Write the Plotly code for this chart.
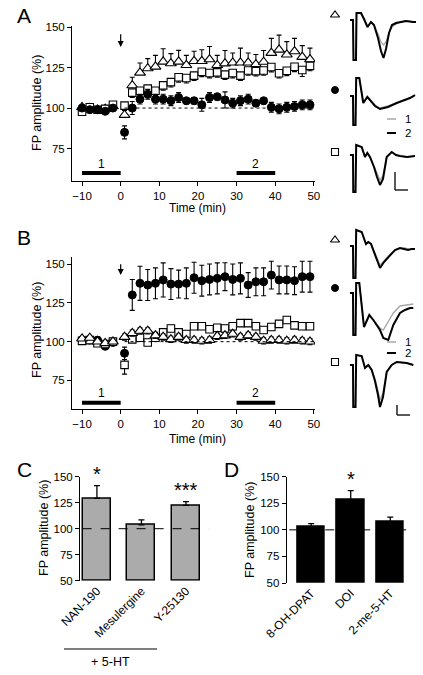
import plotly.graph_objects as go

# ---------------- data ----------------
t_all = [-10, -8, -6, -4, -2, 1, 3, 5, 7, 9, 11, 13, 15, 17, 19, 21, 23, 25, 27, 29,
         31, 33, 35, 37, 39, 41, 43, 45, 47, 49]

# Panel A
A_circle = [100, 99, 99, 98, 100, 85, 100, 105.5, 108.5, 105.5, 105.5, 104.5, 106.5, 104.5, 104.5,
            102, 106.5, 107, 105, 103, 104.5, 105.5, 103, 104.5, 100.5, 99.5, 100.5, 101, 102, 102]
A_circle_err = [1, 1, 1, 1, 1, 4, 4, 3, 3, 3, 3, 3, 3, 2, 2, 4, 3, 2, 5, 3, 3, 3, 2, 2, 3, 3, 3, 3, 3, 3]
A_square = [97.7, 100.5, 99, 99.5, 102, 101.5, 109.5, 110.7, 112, 110.7, 114, 116, 119, 118.5, 120,
            122.4, 121.6, 122, 120.6, 121.6, 120, 123.2, 122.8, 123.2, 125.3, 121.5, 123, 125.5, 123.5, 126]
A_square_err = [1, 1, 1, 1, 1, 3, 3, 3, 3, 3, 3, 3, 3, 3, 3, 3, 3, 3, 3, 3, 3, 3, 3, 3, 3, 3, 3, 3, 4, 3]
A_triangle = [100.5, 100, 99, 99.5, 101, 95.7, 114, 121.8, 124.5, 125.5, 128.6, 127.6, 128.6, 126.5, 129,
              129, 130, 126.5, 127.5, 128, 128, 128, 127, 128.5, 134, 136, 133, 135, 131.5, 130]
A_triangle_err = [1, 1, 1, 1, 1, 4, 5, 6, 6, 7, 8, 6, 7, 6, 6, 7, 8, 6, 8, 6, 9, 6, 6, 7, 9, 9, 8, 8, 7, 7]

# Panel B
B_circle = [101, 101, 101, 97, 99.5, 92.5, 130.2, 137.7, 136.6, 137.7, 139.9, 137.2, 137.2, 137.7, 141.3,
            139.4, 140.2, 140.9, 142, 140.2, 140.9, 136.6, 138.7, 138.7, 143, 139.9, 139.9, 139.4, 142, 142]
B_circle_err = [1, 1, 1, 1, 1, 4, 10, 11, 10, 10, 11, 10, 9, 10, 10, 10, 10, 10, 9, 10, 10, 8, 9, 9, 9, 9, 9, 9, 10, 10]
B_square = [100.5, 101, 99, 98.5, 100, 85, 101.5, 102.5, 99.5, 102.5, 106, 108.5, 106, 105, 110,
            110, 108, 109, 108.5, 110, 112, 112, 110, 107.5, 109.5, 111.5, 114, 110.5, 110, 110]
B_square_err = [1, 1, 1, 1, 1, 6, 2, 2, 2, 2, 2, 2, 2, 2, 2, 2, 2, 2, 2, 2, 2, 2, 2, 2, 2, 2, 2, 2, 2, 2]
B_triangle = [102, 102.5, 100, 99, 100, 103, 105.5, 107, 107, 104, 103, 101.5, 103, 101, 101,
              100.5, 101, 103.5, 104, 105, 103, 104, 103, 100.5, 101, 101, 100.5, 101, 100.5, 100]
B_triangle_err = [1, 1, 1, 1, 1, 2, 2, 2, 2, 2, 2, 2, 2, 2, 2, 2, 2, 2, 2, 2, 2, 2, 2, 2, 2, 2, 2, 2, 2, 2]

# sampling windows "1" and "2"
win1 = [-10, 0]
win2 = [30, 40]

# Panel C
C_cats = ["NAN-190", "Mesulergine", "Y-25130"]
C_vals = [129.2, 103.6, 122.5]
C_err = [12.3, 4.8, 3.5]
C_stars = ["*", "", "***"]

# Panel D
D_cats = ["8-OH-DPAT", "DOI", "2-me-5-HT"]
D_vals = [103.1, 128.1, 107.8]
D_err = [2.8, 8.8, 4.1]
D_stars = ["", "*", ""]

# Representative field potentials (time samples, amplitude; "1" grey = before, "2" black = after)
wA_tri_t = [0, 3, 3.5, 6, 6.5, 11, 14, 17.5, 21, 24, 28, 31, 33.5, 36, 39, 42, 46, 50, 56, 63, 66]
wA_tri_2 = [1, 1, -39, -39, 8, 8, 2, -6, -1, -4, -17, -30, -37, -28, -12, -4, -2, -1, 0, -1, -1]
wA_tri_1 = [1, 1, -39, -39, 8, 8, 2, -6, -1, -4, -13, -21, -24, -21, -12, -6, -3, -1, 0, -1, -1]

wA_cir_t = [0, 3, 3.3, 5.5, 6.2, 9.3, 13.3, 17.3, 20, 25, 30, 38, 46.7, 55, 60, 65]
wA_cir_2 = [0, 0, -29, -29, 18, 18, -7, -1, -4, -10, -13, -11, -7, -4, -2, 1]
wA_cir_1 = [0, 0, -29, -29, 18, 18, -7, -1, -4, -9, -12, -10, -7, -4, -2, 0]

wA_sq_t = [0, 3, 3.3, 5.5, 6.2, 11.7, 15, 17.3, 20, 24, 27, 30, 33, 36.7, 41.7, 46, 50, 57, 65]
wA_sq_2 = [0, 0, -37, -37, 10, 8, -2, 2, -2, -12, -22, -30, -24, -2, 3, 0, -1, -2, -1]
wA_sq_1 = [0, 0, -37, -37, 10, 8, -2, 2, -2, -11, -19, -25, -21, -2, 3, 0, -1, -2, -1]

wB_tri_t = [0, 3, 3.3, 5.5, 6.2, 11.7, 16, 18.3, 21, 25, 30, 34, 38.3, 45, 50, 55, 58, 61.7, 65]
wB_tri_2 = [1, 1, -31, -31, 17, 15, 3, 5, 3, -8, -21, -15, -10, -3, -1, -2, -3, -2, -2]
wB_tri_1 = [1, 1, -31, -31, 17, 15, 3, 5, 3, -7, -18, -14, -9, -3, -1, -1, -2, -2, -2]

wB_cir_t = [0, 3, 3.3, 5.5, 6.2, 9.3, 14, 19.3, 23.3, 30, 33.3, 38.3, 43.3, 50, 55, 60, 63.3]
wB_cir_2 = [0, 0, -42, -42, 10, 10, -34, -22, -27, -37, -45, -47, -32, -20, -17, -15, -15]
wB_cir_1 = [0, 0, -42, -42, 10, 10, -34, -22, -27, -35, -37, -29, -20, -13, -12, -11, -11]

wB_sq_t = [0, 3, 3.3, 5.5, 6.2, 11.7, 15, 18.3, 21.7, 25, 28, 30, 33, 36.7, 41.7, 46.7, 56.7, 63.3]
wB_sq_2 = [0, 0, -42, -42, 10, 9, -3, 0, -5, -16, -30, -42, -32, -7, 0, 3, 2, 0]
wB_sq_1 = [0, 0, -42, -42, 10, 9, -3, 0, -5, -14, -26, -35, -28, -7, 0, 3, 2, 0]

# ---------------- layout helpers ----------------
W, H = 423, 675
FONT = "Arial, Liberation Sans, sans-serif"


def fx(p):
    return p / W


def fy(p):
    return 1 - p / H


fig = go.Figure()

MK = {
    "circle": dict(symbol="circle", size=8, color="black", line=dict(color="black", width=1)),
    "square": dict(symbol="square", size=7.5, color="white", line=dict(color="black", width=1.1)),
    "triangle": dict(symbol="triangle-up", size=9.5, color="white", line=dict(color="black", width=1.1)),
}


def series(xa, ya, y, err, kind, up=True, down=True):
    zeros = [0] * len(err)
    fig.add_trace(go.Scatter(
        x=t_all, y=y, mode="markers", xaxis=xa, yaxis=ya,
        marker=MK[kind],
        error_y=dict(type="data", symmetric=False,
                     array=err if up else zeros,
                     arrayminus=err if down else zeros,
                     color="black", thickness=1.1, width=2.5),
        showlegend=False, hoverinfo="skip"))


# Panel A
series("x", "y", A_triangle, A_triangle_err, "triangle", up=True, down=False)
series("x", "y", A_square, A_square_err, "square", up=False, down=True)
series("x", "y", A_circle, A_circle_err, "circle")
# Panel B
series("x2", "y2", B_circle, B_circle_err, "circle")
series("x2", "y2", B_square, B_square_err, "square")
series("x2", "y2", B_triangle, B_triangle_err, "triangle")

# windows 1 & 2
for xa, ya, ybar in [("x", "y", 60), ("x2", "y2", 60.6)]:
    for w in (win1, win2):
        fig.add_trace(go.Scatter(x=w, y=[ybar, ybar], mode="lines", xaxis=xa, yaxis=ya,
                                 line=dict(color="black", width=4), showlegend=False, hoverinfo="skip"))

# Panel C bars
fig.add_trace(go.Bar(x=C_cats, y=[v - 50 for v in C_vals], base=50, xaxis="x3", yaxis="y3",
                     marker=dict(color="#ababab", line=dict(color="black", width=1.5)), width=0.63,
                     error_y=dict(type="data", symmetric=False, array=C_err, arrayminus=[0, 0, 0],
                                  color="black", thickness=1.3, width=3),
                     showlegend=False, hoverinfo="skip"))
# Panel D bars
fig.add_trace(go.Bar(x=D_cats, y=[v - 50 for v in D_vals], base=50, xaxis="x4", yaxis="y4",
                     marker=dict(color="black", line=dict(color="black", width=1.5)), width=0.70,
                     error_y=dict(type="data", symmetric=False, array=D_err, arrayminus=[0, 0, 0],
                                  color="black", thickness=1.3, width=3),
                     showlegend=False, hoverinfo="skip"))

# waveform traces
rows_A = [(wA_tri_t, wA_tri_1, wA_tri_2, 21), (wA_cir_t, wA_cir_1, wA_cir_2, 96), (wA_sq_t, wA_sq_1, wA_sq_2, 155)]
rows_B = [(wB_tri_t, wB_tri_1, wB_tri_2, 22), (wB_cir_t, wB_cir_1, wB_cir_2, 68), (wB_sq_t, wB_sq_1, wB_sq_2, 140)]
for xa, ya, rows in [("x5", "y5", rows_A), ("x6", "y6", rows_B)]:
    for tt, g, b, base in rows:
        fig.add_trace(go.Scatter(x=tt, y=[v - base for v in g], mode="lines", xaxis=xa, yaxis=ya,
                                 line=dict(color="#a8a8a8", width=1.4), showlegend=False, hoverinfo="skip"))
        fig.add_trace(go.Scatter(x=tt, y=[v - base for v in b], mode="lines", xaxis=xa, yaxis=ya,
                                 line=dict(color="black", width=2), showlegend=False, hoverinfo="skip"))

# row symbols next to waveforms
sym_rows = [("x5", "y5", [15, 90, 152]), ("x6", "y6", [15, 63, 137])]
for xa, ya, ys in sym_rows:
    for kind, yy in zip(["triangle", "circle", "square"], ys):
        m = dict(MK[kind])
        m = dict(m, size=7 if kind != "triangle" else 8)
        fig.add_trace(go.Scatter(x=[-15], y=[-yy], mode="markers", xaxis=xa, yaxis=ya,
                                 marker=m, showlegend=False, hoverinfo="skip"))

# ---------------- axes ----------------
base_ax = dict(showline=True, linecolor="black", linewidth=1, ticks="outside", ticklen=4,
               tickwidth=1, tickcolor="black", showgrid=False, zeroline=False, automargin=False,
               tickfont=dict(size=11.5, color="black", family=FONT))
hid = dict(visible=False, showgrid=False, zeroline=False, automargin=False)
cat_ax = dict(showline=False, ticks="", tickangle=-45, showgrid=False, zeroline=False,
              automargin=False, tickfont=dict(size=12, color="black", family=FONT), type="category")

fig.update_layout(
    template="none",
    width=W, height=H, margin=dict(l=0, r=0, t=0, b=0, pad=0, autoexpand=False),
    paper_bgcolor="white", plot_bgcolor="white", showlegend=False,
    font=dict(family=FONT, color="black", size=12),
    bargap=0,
    xaxis=dict(base_ax, domain=[fx(72), fx(315)], range=[-12.6, 50.3],
               tickvals=[-10, 0, 10, 20, 30, 40, 50], anchor="y"),
    yaxis=dict(base_ax, domain=[fy(181), fy(26.2)], range=[55, 150.5],
               tickvals=[75, 100, 125, 150], anchor="x"),
    xaxis2=dict(base_ax, domain=[fx(72), fx(315)], range=[-12.6, 50.3],
                tickvals=[-10, 0, 10, 20, 30, 40, 50], anchor="y2"),
    yaxis2=dict(base_ax, domain=[fy(409), fy(257)], range=[56.5, 154.7],
                tickvals=[75, 100, 125, 150], anchor="x2"),
    xaxis3=dict(cat_ax, domain=[fx(80), fx(210)], range=[-0.38, 2.54], anchor="y3"),
    yaxis3=dict(base_ax, domain=[fy(580.7), fy(476.7)], range=[50, 150],
                tickvals=[50, 75, 100, 125, 150], anchor="x3"),
    xaxis4=dict(cat_ax, domain=[fx(286.7), fx(412)], range=[-0.62, 2.55], anchor="y4"),
    yaxis4=dict(base_ax, domain=[fy(583), fy(476.7)], range=[50, 150],
                tickvals=[50, 75, 100, 125, 150], anchor="x4"),
    xaxis5=dict(hid, domain=[fx(325), fx(420)], range=[-25, 70], anchor="y5"),
    yaxis5=dict(hid, domain=[fy(200), fy(0)], range=[-200, 0], anchor="x5"),
    xaxis6=dict(hid, domain=[fx(325), fx(420)], range=[-25, 70], anchor="y6"),
    yaxis6=dict(hid, domain=[fy(425), fy(225)], range=[-200, 0], anchor="x6"),
)

shapes = []
# baselines at 100 %
shapes.append(dict(type="line", xref="x", yref="y", x0=1, x1=50.3, y0=100, y1=100,
                   line=dict(color="black", width=1, dash="dot")))
shapes.append(dict(type="line", xref="x2", yref="y2", x0=1, x1=50.3, y0=100, y1=100,
                   line=dict(color="black", width=1, dash="dot")))
shapes.append(dict(type="line", xref="x3 domain", yref="y3", x0=0.02, x1=0.99, y0=100, y1=100,
                   line=dict(color="black", width=1, dash="dash"), layer="above"))
shapes.append(dict(type="line", xref="x4 domain", yref="y4", x0=0.02, x1=1, y0=100, y1=100,
                   line=dict(color="black", width=1, dash="dash"), layer="above"))
# "+ 5-HT" bracket line
shapes.append(dict(type="line", xref="paper", yref="paper", x0=fx(64), x1=fx(157), y0=fy(649), y1=fy(649),
                   line=dict(color="black", width=1)))
# scale bars and legend lines for waveforms
for xa, ya, sb, lg in [("x5", "y5", (45, 58, -172, -190), (-119, -133)),
                       ("x6", "y6", (47, 60, -180, -190), (-117, -128))]:
    x0, x1, ytop, ybot = sb
    shapes.append(dict(type="line", xref=xa, yref=ya, x0=x0, x1=x0, y0=ytop, y1=ybot,
                       line=dict(color="black", width=1.3)))
    shapes.append(dict(type="line", xref=xa, yref=ya, x0=x0, x1=x1, y0=ybot, y1=ybot,
                       line=dict(color="black", width=1.3)))
    shapes.append(dict(type="line", xref=xa, yref=ya, x0=37, x1=46, y0=lg[0], y1=lg[0],
                       line=dict(color="#a8a8a8", width=1.5)))
    shapes.append(dict(type="line", xref=xa, yref=ya, x0=37, x1=46, y0=lg[1], y1=lg[1],
                       line=dict(color="black", width=2)))
fig.update_layout(shapes=shapes)

ann = []


def ptext(x, y, text, size=12, angle=0, xanchor="center"):
    ann.append(dict(x=fx(x), y=fy(y), xref="paper", yref="paper", text=text, showarrow=False,
                    font=dict(size=size, color="black", family=FONT), textangle=angle,
                    xanchor=xanchor, yanchor="middle"))


# panel letters
ptext(24, 16, "A", 21)
ptext(24, 238, "B", 21)
ptext(24.5, 469, "C", 21)
ptext(231.5, 469, "D", 21)
# axis titles
ptext(37, 103, "FP amplitude (%)", 12.5, -90)
ptext(37, 330, "FP amplitude (%)", 12.5, -90)
ptext(44, 528, "FP amplitude (%)", 12.5, -90)
ptext(250, 530, "FP amplitude (%)", 12.5, -90)
ptext(197, 208, "Time (min)", 12)
ptext(197, 439, "Time (min)", 12)
ptext(110, 662, "+ 5-HT", 12.5)

# window labels
for xa, ya, yl in [("x", "y", 65.6), ("x2", "y2", 66.7)]:
    for w, lab in [(win1, "1"), (win2, "2")]:
        ann.append(dict(x=(w[0] + w[1]) / 2, y=yl, xref=xa, yref=ya, text=lab, showarrow=False,
                        font=dict(size=12, color="black", family=FONT), yanchor="middle"))
# application arrows
for xa, ya, head, tail in [("x", "y", 137.7, 146.5), ("x2", "y2", 143.1, 151)]:
    ann.append(dict(x=0, y=head, ax=0, ay=tail, xref=xa, yref=ya, axref=xa, ayref=ya, text="",
                    showarrow=True, arrowhead=2, arrowsize=1, arrowwidth=1.2, arrowcolor="black"))
# significance stars
for xa, ya, cats, vals, errs, stars in [("x3", "y3", C_cats, C_vals, C_err, C_stars),
                                         ("x4", "y4", D_cats, D_vals, D_err, D_stars)]:
    for c, v, e, s in zip(cats, vals, errs, stars):
        if s:
            ann.append(dict(x=c, y=v + e - 1, xref=xa, yref=ya, text=s, showarrow=False,
                            font=dict(size=20, color="black", family=FONT), yanchor="bottom"))
# waveform legend text
for xa, ya, lg in [("x5", "y5", (-119, -133)), ("x6", "y6", (-117, -128))]:
    for yy, lab in zip(lg, ["1", "2"]):
        ann.append(dict(x=53, y=yy, xref=xa, yref=ya, text=lab, showarrow=False,
                        font=dict(size=11.5, color="black", family=FONT), xanchor="left", yanchor="middle"))

fig.update_layout(annotations=ann)
fig.write_html("out.html", config={"displayModeBar": False},
               post_script="document.body.style.margin='0';document.body.style.padding='0';")
